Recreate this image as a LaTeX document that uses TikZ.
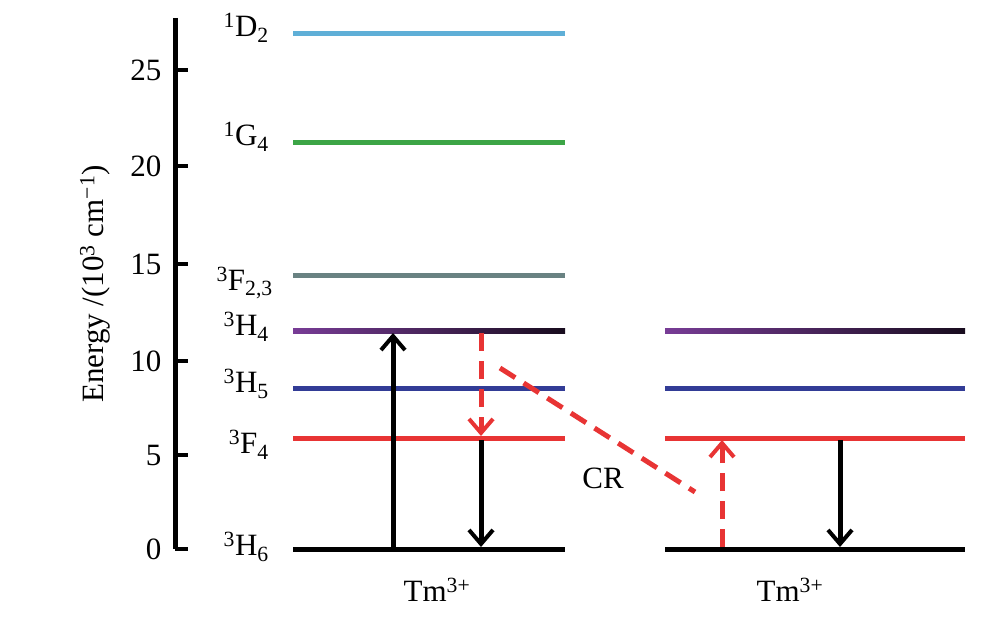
\documentclass[tikz,border=0pt]{standalone}
\usepackage{fontspec}
\setmainfont{Liberation Serif}
\usetikzlibrary{arrows.meta}
\definecolor{cD}{RGB}{95,175,215}
\definecolor{cG}{RGB}{60,165,70}
\definecolor{cF}{RGB}{105,130,130}
\definecolor{cHf}{RGB}{120,60,150}
\definecolor{cHv}{RGB}{50,60,150}
\definecolor{cR}{RGB}{232,52,52}
\begin{document}
\begin{tikzpicture}[x=1pt,y=-1pt,
  fnt/.style={font=\fontsize{31}{34}\selectfont},
  lvl/.style={line width=5pt},
  lab/.style={fnt,anchor=east,inner sep=1pt},
  tick/.style={fnt,anchor=east},
  blk/.style={line width=5pt,-{Straight Barb[length=14pt,width=24pt,line width=4pt]}},
  red/.style={line width=5pt,cR,dash pattern=on 18pt off 10pt,-{Straight Barb[length=14pt,width=24pt,line width=4pt]}}]
\useasboundingbox (0,0) rectangle (1000,617);
% axis
\draw[line width=5pt] (175,18) coordinate (top) -- (175,549) coordinate (bot);
\foreach \v/\y in {0/549,5/455,10/361,15/264,20/166,25/70}{
  \draw[line width=4pt] (175,\y) -- (188,\y);
  \node[tick] at (165,\y) {\v};}
\node[rotate=90,fnt] (ylab) at (95,284) {Energy /(10\textsuperscript{3} cm\textsuperscript{−1})};
% left levels
\draw[lvl,cD] (293,34) coordinate (d1) -- (565,34) coordinate (d2);
\draw[lvl,cG] (293,143) -- (565,143);
\draw[lvl,cF] (293,276) -- (565,276);
\shade[left color=cHf,right color=black!80!cHf] (293,328.5) rectangle (565,333.5);
\draw[lvl,cHv] (293,388) -- (565,388);
\draw[lvl,cR] (293,438) -- (565,438);
\draw[lvl,black] (293,549) -- (565,549);
% right levels
\shade[left color=cHf,right color=black!80!cHf] (665,328.5) rectangle (965,333.5);
\draw[lvl,cHv] (665,388) -- (965,388);
\draw[lvl,cR] (665,438) -- (965,438);
\draw[lvl,black] (665,549) -- (965,549);
% labels
\node[lab] (l1) at (270,28) {\textsuperscript{1}D\textsubscript{2}};
\node[lab] (l2) at (270,137) {\textsuperscript{1}G\textsubscript{4}};
\node[lab] (l3) at (274,283) {\textsuperscript{3}F\textsubscript{2,3}};
\node[lab] (l4) at (270,327) {\textsuperscript{3}H\textsubscript{4}};
\node[lab] (l5) at (270,384) {\textsuperscript{3}H\textsubscript{5}};
\node[lab] (l6) at (270,445) {\textsuperscript{3}F\textsubscript{4}};
\node[lab] (l7) at (270,547) {\textsuperscript{3}H\textsubscript{6}};
\node[fnt] (t1) at (437,590) {Tm\textsuperscript{3+}};
\node[fnt] (t2) at (790,590) {Tm\textsuperscript{3+}};
\node[fnt] (cr) at (603,478) {CR};
% arrows
\coordinate (a0) at (393,549); \coordinate (a1) at (393,333);
\draw[blk] (a0) -- (a1);
\coordinate (b0) at (481,440); \coordinate (b1) at (481,547);
\draw[blk] (b0) -- (b1);
\coordinate (r0) at (481,333); \coordinate (r1) at (481,436);
\draw[red] (r0) -- (r1);
\coordinate (c0) at (500,368); \coordinate (c1) at (695,492);
\draw[line width=5pt,cR,dash pattern=on 18pt off 10pt] (c0) -- (c1);
\coordinate (u0) at (722,547); \coordinate (u1) at (722,440);
\draw[red] (u0) -- (u1);
\coordinate (e0) at (840,440); \coordinate (e1) at (840,547);
\draw[blk] (e0) -- (e1);
\end{tikzpicture}
\end{document}
